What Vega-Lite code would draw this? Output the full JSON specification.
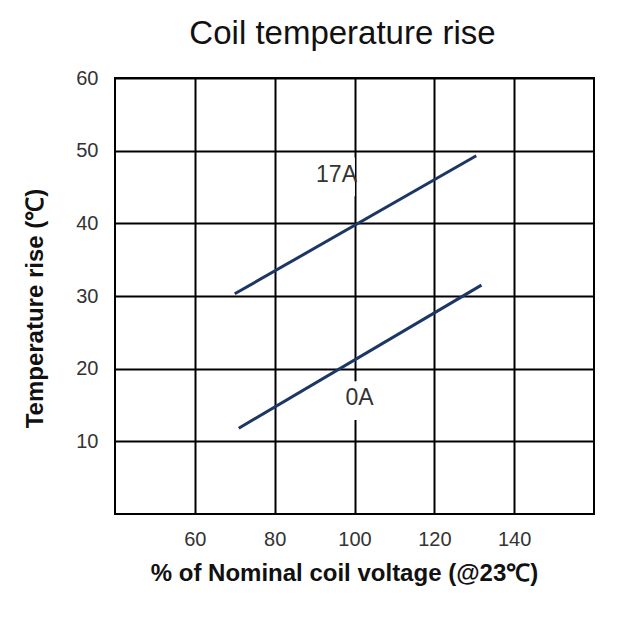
{
  "$schema": "https://vega.github.io/schema/vega-lite/v6.json",
  "width": 479,
  "height": 436,
  "autosize": {"type": "none"},
  "padding": {"left": 115, "top": 78, "right": 23, "bottom": 103},
  "background": "white",
  "title": {
    "text": "Coil temperature rise",
    "font": "Liberation Sans",
    "fontSize": 33,
    "fontWeight": "normal",
    "color": "#111",
    "anchor": "middle",
    "dx": -12,
    "offset": 17
  },
  "config": {
    "view": {"stroke": "black", "strokeWidth": 2},
    "font": "Liberation Sans"
  },
  "datasets": {
    "series": [
      {"current": "17A", "voltage": 70, "rise": 30.3},
      {"current": "17A", "voltage": 130.5, "rise": 49.3},
      {"current": "0A", "voltage": 71, "rise": 11.8},
      {"current": "0A", "voltage": 131.8, "rise": 31.5}
    ],
    "labels": [
      {"label": "17A", "voltage": 95.5, "rise": 46.6, "boxV": 95.25, "boxR": 46.4},
      {"label": "0A", "voltage": 101.25, "rise": 16.0, "boxV": 101.25, "boxR": 15.6}
    ]
  },
  "encoding": {
    "x": {"type": "quantitative"},
    "y": {"type": "quantitative"}
  },
  "layer": [
    {
      "data": {"name": "series"},
      "mark": {"type": "line", "color": "#1c3766", "strokeWidth": 3},
      "encoding": {
        "x": {
          "field": "voltage",
          "type": "quantitative",
          "scale": {"domain": [40, 160], "nice": false},
          "axis": {
            "values": [60, 80, 100, 120, 140],
            "grid": true,
            "gridColor": "black",
            "gridWidth": 2,
            "gridOpacity": 1,
            "domain": false,
            "ticks": false,
            "labelPadding": 15,
            "labelFontSize": 20,
            "labelColor": "#333",
            "title": "% of Nominal coil voltage (@23℃)",
            "titleFontSize": 24,
            "titleFontWeight": "bold",
            "titleColor": "#111",
            "titlePadding": 12,
            "titleX": 229
          }
        },
        "y": {
          "field": "rise",
          "type": "quantitative",
          "scale": {"domain": [0, 60], "nice": false},
          "axis": {
            "values": [10, 20, 30, 40, 50, 60],
            "grid": true,
            "gridColor": "black",
            "gridWidth": 2,
            "gridOpacity": 1,
            "domain": false,
            "ticks": false,
            "labelPadding": 17,
            "labelFontSize": 20,
            "labelColor": "#333",
            "title": "Temperature rise (℃)",
            "titleFontSize": 24,
            "titleFontWeight": "bold",
            "titleColor": "#111",
            "titlePadding": 28,
            "titleY": 230
          }
        },
        "detail": {"field": "current"}
      }
    },
    {
      "data": {"name": "labels"},
      "mark": {"type": "point", "shape": "square", "filled": true, "color": "white", "opacity": 1, "size": 1500},
      "encoding": {
        "x": {"field": "boxV", "type": "quantitative"},
        "y": {"field": "boxR", "type": "quantitative"}
      }
    },
    {
      "data": {"name": "labels"},
      "mark": {"type": "text", "fontSize": 23, "color": "#333", "font": "Liberation Sans"},
      "encoding": {
        "x": {"field": "voltage", "type": "quantitative"},
        "y": {"field": "rise", "type": "quantitative"},
        "text": {"field": "label"}
      }
    }
  ]
}
